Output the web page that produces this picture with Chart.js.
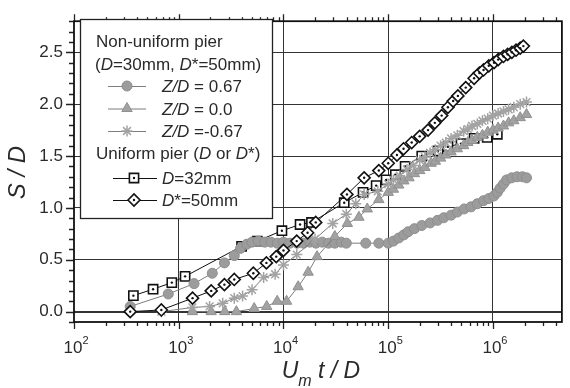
<!DOCTYPE html>
<html>
<head>
<meta charset="utf-8">
<script src="https://cdn.jsdelivr.net/npm/chart.js@4.4.1/dist/chart.umd.min.js"></script>
<style>
  html, body { margin: 0; padding: 0; background: #fff; }
  canvas { display: block; }
</style>
</head>
<body>
<canvas id="scourChart" width="570" height="388"></canvas>
<script>
// Non-uniform pier, Z/D = 0.67 (grey circles)
const circleX = [344, 794, 1400, 2090, 2730, 3390, 3890, 4470, 5010, 5750, 6610, 7590, 8710, 10000, 11500, 13500, 15500, 17800, 20400, 23400, 26900, 30900, 35500, 39800, 61000, 81300, 100000, 112000, 126000, 141000, 155000, 178000, 209000, 251000, 295000, 339000, 398000, 457000, 531000, 617000, 708000, 813000, 912000, 1020000, 1100000, 1170000, 1260000, 1350000, 1510000, 1700000, 1910000, 2090000];
const circleY = [0.05, 0.17, 0.27, 0.37, 0.47, 0.54, 0.61, 0.65, 0.67, 0.68, 0.67, 0.67, 0.66, 0.67, 0.66, 0.66, 0.66, 0.67, 0.66, 0.67, 0.66, 0.66, 0.67, 0.66, 0.66, 0.66, 0.66, 0.68, 0.71, 0.74, 0.77, 0.80, 0.83, 0.855, 0.88, 0.905, 0.93, 0.96, 0.99, 1.01, 1.04, 1.07, 1.09, 1.115, 1.15, 1.19, 1.23, 1.27, 1.29, 1.30, 1.30, 1.29];

// Non-uniform pier, Z/D = 0.0 (grey triangles)
const triX = [1350, 2040, 2750, 3550, 5250, 6920, 8710, 10700, 13800, 17200, 20900, 30900, 40700, 52500, 63100, 81300, 100000, 112000, 126000, 141000, 158000, 178000, 200000, 224000, 257000, 282000, 316000, 355000, 398000, 457000, 525000, 575000, 631000, 708000, 794000, 891000, 1000000, 1120000, 1260000, 1410000, 1580000, 1820000, 2090000];
const triY = [0.0, 0.0, 0.0, 0.0, 0.03, 0.05, 0.10, 0.10, 0.24, 0.38, 0.53, 0.725, 0.85, 0.91, 0.99, 1.08, 1.15, 1.18, 1.22, 1.26, 1.29, 1.33, 1.36, 1.39, 1.43, 1.45, 1.48, 1.51, 1.54, 1.57, 1.60, 1.63, 1.65, 1.68, 1.70, 1.73, 1.75, 1.77, 1.79, 1.82, 1.84, 1.87, 1.90];

// Non-uniform pier, Z/D = -0.67 (grey asterisks)
const starX = [683, 1350, 1970, 2630, 3390, 4070, 5010, 6460, 8320, 10000, 13400, 20000, 29500, 39800, 49000, 58900, 79400, 100000, 112000, 129000, 151000, 174000, 200000, 224000, 251000, 282000, 316000, 355000, 398000, 457000, 525000, 575000, 631000, 708000, 794000, 891000, 1000000, 1120000, 1260000, 1410000, 1580000, 1820000, 2090000];
const starY = [0.0, 0.04, 0.05, 0.08, 0.13, 0.15, 0.21, 0.33, 0.36, 0.45, 0.55, 0.70, 0.85, 0.94, 1.04, 1.13, 1.16, 1.23, 1.27, 1.31, 1.37, 1.41, 1.46, 1.49, 1.53, 1.56, 1.60, 1.63, 1.67, 1.70, 1.74, 1.76, 1.79, 1.81, 1.84, 1.86, 1.89, 1.91, 1.93, 1.95, 1.97, 2.00, 2.02];

// Uniform pier D = 32mm (open squares)
const squareX = [369, 569, 859, 1150, 3980, 5620, 9660, 14400, 18500, 38000, 57500, 76700, 95500, 117000, 145000, 209000, 299000, 372000, 495000, 661000, 881000, 1100000];
const squareY = [0.154, 0.216, 0.28, 0.34, 0.63, 0.68, 0.78, 0.84, 0.86, 1.05, 1.15, 1.215, 1.27, 1.32, 1.40, 1.50, 1.55, 1.59, 1.62, 1.67, 1.68, 1.71];

// Uniform pier D* = 50mm (open diamonds)
const diamondX = [344, 682, 1355, 2042, 2729, 3388, 5152, 6871, 8531, 10000, 13370, 16980, 20320, 40360, 58880, 81280, 100000, 121100, 140000, 167500, 199500, 239900, 278600, 323600, 371500, 416900, 462400, 549500, 660700, 741300, 812800, 912000, 1023000, 1122000, 1259000, 1380000, 1514000, 1660000, 1820000, 1950000];
const diamondY = [0.0, 0.016, 0.13, 0.20, 0.26, 0.31, 0.37, 0.47, 0.53, 0.59, 0.68, 0.76, 0.86, 1.13, 1.29, 1.36, 1.43, 1.51, 1.57, 1.63, 1.69, 1.75, 1.82, 1.89, 1.97, 2.03, 2.08, 2.16, 2.25, 2.30, 2.33, 2.37, 2.40, 2.43, 2.46, 2.48, 2.50, 2.52, 2.54, 2.56];

// Axis ticks
const xDecades = [100, 1000, 10000, 100000, 1000000];
const xExponents = ['2', '3', '4', '5', '6'];
const yMajor = [0, 0.5, 1.0, 1.5, 2.0, 2.5];

const FONT = '"Liberation Sans", Arial, sans-serif';
const TEXT = '#2a2a2a';
const GREY_LINE = '#7d7d7d';

function series(xs, ys, opts) {
    return Object.assign({
        data: xs.map((x, i) => ({ x: x, y: ys[i] })),
        showLine: true,
        borderWidth: 1,
        pointHoverRadius: 0,
        pointRotation: 0
    }, opts);
}

// lower order is drawn on top
const datasets = [
    series(diamondX, diamondY, { order: 0, borderColor: '#111', pointStyle: 'circle', pointRadius: 1.2, pointBorderWidth: 0, pointBackgroundColor: '#111', showLine: false }),
    series(diamondX, diamondY, { order: 1, borderColor: '#111', pointStyle: 'rectRot', pointRadius: 6, pointBorderWidth: 1.6, pointBorderColor: '#111', pointBackgroundColor: '#fff' }),
    series(starX, starY, { order: 2, borderColor: GREY_LINE, pointStyle: 'star', pointRadius: 5.5, pointBorderWidth: 1.5, pointBorderColor: '#a3a3a3', pointBackgroundColor: '#a3a3a3' }),
    series(triX, triY, { order: 3, borderColor: GREY_LINE, pointStyle: 'triangle', pointRadius: 6, pointBorderWidth: 1, pointBorderColor: '#909090', pointBackgroundColor: '#a2a2a2' }),
    series(circleX, circleY, { order: 3.5, borderColor: GREY_LINE, pointStyle: 'circle', pointRadius: 5, pointBorderWidth: 1, pointBorderColor: '#8e8e8e', pointBackgroundColor: '#9c9c9c' }),
    series(squareX, squareY, { order: 3.9, borderColor: '#111', pointStyle: 'circle', pointRadius: 1.2, pointBorderWidth: 0, pointBackgroundColor: '#111', showLine: false }),
    series(squareX, squareY, { order: 4, borderColor: '#111', pointStyle: 'rect', pointRadius: 6.5, pointBorderWidth: 1.6, pointBorderColor: '#111', pointBackgroundColor: '#fff' })
];

// Draw text made of plain / italic pieces, returns end x
function richText(ctx, parts, x, y, size) {
    parts.forEach(p => {
        const s = p.s || size;
        ctx.font = (p.i ? 'italic ' : '') + s + 'px ' + FONT;
        ctx.fillText(p.t, x, y + (p.dy || 0));
        x += ctx.measureText(p.t).width;
    });
    return x;
}

function richWidth(ctx, parts, size) {
    let w = 0;
    parts.forEach(p => {
        ctx.font = (p.i ? 'italic ' : '') + (p.s || size) + 'px ' + FONT;
        w += ctx.measureText(p.t).width;
    });
    return w;
}

function marker(ctx, style, x, y, r, fill, stroke, lw, dot) {
    ctx.fillStyle = fill;
    ctx.strokeStyle = stroke;
    ctx.lineWidth = lw;
    Chart.helpers.drawPoint(ctx, { pointStyle: style, radius: r, rotation: 0, borderWidth: lw }, x, y);
    if (dot) {
        ctx.fillStyle = '#111';
        ctx.beginPath();
        ctx.arc(x, y, 1.2, 0, Math.PI * 2);
        ctx.fill();
    }
}

const decor = {
    id: 'decor',
    afterDraw(chart) {
        const ctx = chart.ctx;
        const a = chart.chartArea;
        const xs = chart.scales.x;
        const ys = chart.scales.y;
        ctx.save();

        // minor / major ticks
        ctx.strokeStyle = '#222';
        ctx.lineWidth = 1.3;
        ctx.beginPath();
        xDecades.forEach(d => {
            for (let m = 1; m <= 9; m++) {
                const v = m * d;
                if (v > xs.max) break;
                const px = Math.round(xs.getPixelForValue(v)) + 0.5;
                const len = m === 1 ? 7 : 4;
                ctx.moveTo(px, a.bottom); ctx.lineTo(px, a.bottom + len);
                ctx.moveTo(px, a.top); ctx.lineTo(px, a.top - len);
            }
        });
        for (let i = -1; i <= 28; i++) {
            const py = Math.round(ys.getPixelForValue(i / 10)) + 0.5;
            const len = (i % 5 === 0) ? 8 : 5;
            ctx.moveTo(a.left - len, py); ctx.lineTo(a.left, py);
        }
        ctx.stroke();

        // frame
        ctx.lineWidth = 1.8;
        ctx.strokeStyle = '#111';
        ctx.strokeRect(a.left, a.top, a.right - a.left, a.bottom - a.top);

        // x tick labels 10^n
        ctx.fillStyle = TEXT;
        ctx.textBaseline = 'alphabetic';
        ctx.textAlign = 'left';
        xDecades.forEach((d, i) => {
            const parts = [{ t: '10', s: 17 }, { t: xExponents[i], s: 11, dy: -9 }];
            const w = richWidth(ctx, parts, 17);
            const px = xs.getPixelForValue(d);
            richText(ctx, parts, px - w / 2 + 2, 353, 17);
        });

        // x title
        const xt = [{ t: 'U', i: true }, { t: 'm', i: true, s: 16, dy: 8 }, { t: ' t / D', i: true }];
        const xw = richWidth(ctx, xt, 23);
        richText(ctx, xt, (a.left + a.right) / 2 + 3 - xw / 2, 378, 23);

        // y title
        ctx.save();
        ctx.translate(25, (a.top + a.bottom) / 2 + 1);
        ctx.rotate(-Math.PI / 2);
        const yt = [{ t: 'S / D', i: true }];
        const yw = richWidth(ctx, yt, 24);
        richText(ctx, yt, -yw / 2, 0, 24);
        ctx.restore();

        // legend box
        ctx.fillStyle = '#fff';
        ctx.fillRect(80, 19, 192, 199);
        ctx.lineWidth = 1.3;
        ctx.strokeStyle = '#222';
        ctx.strokeRect(80.5, 19.5, 192, 199);

        ctx.fillStyle = TEXT;
        richText(ctx, [{ t: 'Non-uniform pier' }], 96, 47, 17);
        richText(ctx, [{ t: '(' }, { t: 'D', i: true }, { t: '=30mm, ' }, { t: 'D', i: true }, { t: '*=50mm)' }], 95, 70, 17);

        const grey = [
            { y: 86, style: 'circle', r: 5, fill: '#9c9c9c', stroke: '#8e8e8e', lw: 1, label: [{ t: 'Z/D', i: true }, { t: ' = 0.67' }] },
            { y: 108.5, style: 'triangle', r: 6, fill: '#a2a2a2', stroke: '#909090', lw: 1, label: [{ t: 'Z/D', i: true }, { t: ' = 0.0' }] },
            { y: 131, style: 'star', r: 5.5, fill: '#a3a3a3', stroke: '#a3a3a3', lw: 1.5, label: [{ t: 'Z/D', i: true }, { t: ' =-0.67' }] }
        ];
        grey.forEach(e => {
            ctx.strokeStyle = GREY_LINE;
            ctx.lineWidth = 1;
            ctx.beginPath();
            ctx.moveTo(108, e.y + 0.5); ctx.lineTo(146, e.y + 0.5);
            ctx.stroke();
            marker(ctx, e.style, 127, e.y, e.r, e.fill, e.stroke, e.lw, false);
            ctx.fillStyle = TEXT;
            richText(ctx, e.label, 162, e.y + 6, 17);
        });

        ctx.fillStyle = TEXT;
        richText(ctx, [{ t: 'Uniform pier (' }, { t: 'D', i: true }, { t: ' or ' }, { t: 'D', i: true }, { t: '*)' }], 96, 159, 17);

        const black = [
            { y: 178, style: 'rect', r: 6.5, label: [{ t: 'D', i: true }, { t: '=32mm' }] },
            { y: 200, style: 'rectRot', r: 6, label: [{ t: 'D', i: true }, { t: '*=50mm' }] }
        ];
        black.forEach(e => {
            ctx.strokeStyle = '#111';
            ctx.lineWidth = 1.2;
            ctx.beginPath();
            ctx.moveTo(113, e.y + 0.5); ctx.lineTo(157, e.y + 0.5);
            ctx.stroke();
            marker(ctx, e.style, 134, e.y, e.r, '#fff', '#111', 1.6, true);
            ctx.fillStyle = TEXT;
            richText(ctx, e.label, 162, e.y + 6, 17);
        });

        ctx.restore();
    }
};

const chart = new Chart(document.getElementById('scourChart'), {
    type: 'scatter',
    data: { datasets: datasets },
    options: {
        responsive: false,
        animation: false,
        events: [],
        layout: { padding: { top: 13, right: 1, left: 0, bottom: 0 } },
        plugins: {
            legend: { display: false },
            tooltip: { enabled: false }
        },
        scales: {
            x: {
                type: 'logarithmic',
                min: 100,
                max: 4.55e6,
                afterBuildTicks: s => { s.ticks = xDecades.slice(1).map(v => ({ value: v })); },
                afterFit: s => { s.height = 66; },
                ticks: { display: false },
                grid: { color: '#333', lineWidth: 1, drawTicks: false },
                border: { display: false }
            },
            y: {
                min: -0.1,
                max: 2.8,
                afterBuildTicks: s => { s.ticks = yMajor.map(v => ({ value: v })); },
                afterFit: s => { s.width = 74; },
                ticks: {
                    padding: 11,
                    color: TEXT,
                    font: { family: FONT, size: 17 },
                    callback: v => Number(v).toFixed(1)
                },
                grid: {
                    color: '#333',
                    lineWidth: c => (c.tick && c.tick.value === 0) ? 2 : 1,
                    drawTicks: false
                },
                border: { display: false }
            }
        }
    },
    plugins: [decor]
});
</script>
</body>
</html>
